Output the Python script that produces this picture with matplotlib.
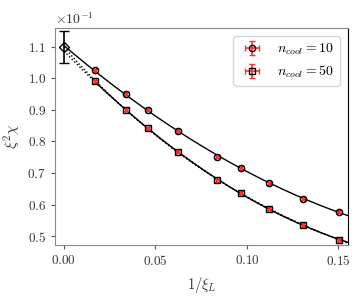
import numpy as np
import matplotlib
matplotlib.use("Agg")
import matplotlib.pyplot as plt
from matplotlib.ticker import MultipleLocator, ScalarFormatter

plt.rcParams['font.family'] = 'serif'
plt.rcParams['font.serif'] = ['cmr10', 'DejaVu Serif']
plt.rcParams['mathtext.fontset'] = 'cm'
plt.rcParams['axes.formatter.use_mathtext'] = True
plt.rcParams['axes.unicode_minus'] = True

# data
inv_xi = [0.0169, 0.0337, 0.0457, 0.0621, 0.0839, 0.0968, 0.1121, 0.1306, 0.1504]
chi_n10 = [0.1025, 0.0951, 0.0901, 0.0833, 0.0751, 0.0716, 0.0668, 0.0618, 0.0577]
chi_n50 = [0.0991, 0.0900, 0.0842, 0.0767, 0.0677, 0.0637, 0.0587, 0.0535, 0.0488]
err_x = [0.0006] * 9
err_n10 = [0.0005] * 9
err_n50 = [0.0005] * 9
extrap_x = [0.0]
extrap_y = [0.1100]
extrap_err = [0.0050]
labels = [r'$n_{cool} = 10$', r'$n_{cool} = 50$']

x = np.array(inv_xi)
y10 = np.array(chi_n10)
y50 = np.array(chi_n50)

fig = plt.figure(figsize=(3.64, 2.96), dpi=100)
ax = fig.add_axes([0.151, 0.172, 0.805, 0.734])

xx = np.linspace(0.0, 0.16, 300)
p10 = np.polyfit(np.r_[extrap_x, x], np.r_[extrap_y, y10], 2)
ax.plot(xx, np.polyval(p10, xx), color='black', lw=1.0, zorder=2)

p50 = np.polyfit(x, y50, 2)
p50b = np.polyfit(np.r_[extrap_x, x], np.r_[extrap_y, y50], 3)
xs = np.linspace(x[0], 0.16, 300)
ax.plot(xs, np.polyval(p50, xs), color='black', lw=1.0, zorder=2)
ax.plot(xx, np.polyval(p50, xx), color='black', lw=1.0, ls=':', zorder=2)
ax.plot(xx, np.polyval(p50b, xx), color='black', lw=1.0, ls=':', zorder=2)

ax.errorbar(x, y10, xerr=err_x, yerr=err_n10, fmt='o', mfc='none', mec='black',
            ms=4.5, mew=1.0, ecolor='#ff3030', elinewidth=1.2, capsize=2.5,
            label=labels[0], zorder=3)
ax.errorbar(x, y50, xerr=err_x, yerr=err_n50, fmt='s', mfc='none', mec='black',
            ms=4.5, mew=1.0, ecolor='#ff3030', elinewidth=1.2, capsize=2.5,
            label=labels[1], zorder=3)
ax.errorbar(extrap_x, extrap_y, yerr=extrap_err, fmt='D', mfc='none', mec='black',
            ms=5, mew=1.0, ecolor='black', elinewidth=1.2, capsize=3.5, zorder=4)

ax.set_xlim(-0.0049, 0.1552)
ax.set_ylim(0.04715, 0.1160)
ax.yaxis.set_major_locator(MultipleLocator(0.01))
ax.xaxis.set_major_locator(MultipleLocator(0.05))
fmt = ScalarFormatter(useMathText=True)
fmt.set_powerlimits((0, 0))
ax.yaxis.set_major_formatter(fmt)
ax.yaxis.get_offset_text().set_fontsize(10)
ax.yaxis.get_offset_text().set_color('#333333')

for s in ['top', 'left', 'bottom']:
    ax.spines[s].set_color('#888888')
ax.spines['right'].set_color('black')
ax.tick_params(labelsize=9.5, length=3, color='#555555', labelcolor='#333333')

ax.set_xlabel(r'$1/\xi_L$', fontsize=10.5, color='#333333', labelpad=5)
ax.set_ylabel(r'$\xi^2\chi$', fontsize=11, color='#333333', labelpad=3)

leg = ax.legend(loc='upper right', fontsize=10, framealpha=0.8, handlelength=2.0,
                borderaxespad=0.6)

fig.savefig('out.png', dpi=100)
